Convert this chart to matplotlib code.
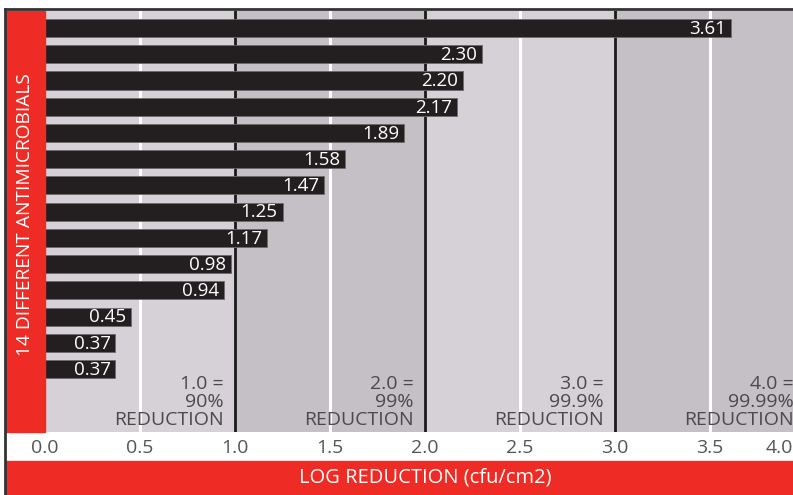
import matplotlib.pyplot as plt
from matplotlib.patches import Rectangle
from matplotlib.lines import Line2D

plt.rcParams['font.family'] = ['Open Sans', 'DejaVu Sans']

values = [3.61, 2.30, 2.20, 2.17, 1.89, 1.58, 1.47, 1.25, 1.17, 0.98, 0.94, 0.45, 0.37, 0.37]
ticks = [0.0, 0.5, 1.0, 1.5, 2.0, 2.5, 3.0, 3.5, 4.0]
notes = {1.0: '1.0 =\n90%\nREDUCTION', 2.0: '2.0 =\n99%\nREDUCTION',
         3.0: '3.0 =\n99.9%\nREDUCTION', 4.0: '4.0 =\n99.99%\nREDUCTION'}
ylabel = '14 DIFFERENT ANTIMICROBIALS'
xlabel = 'LOG REDUCTION (cfu/cm2)'

red = '#ee2b24'
light = '#d6d1d6'
dark = '#c5bfc6'
W, H = 793, 495

fig = plt.figure(figsize=(W / 100, H / 100), dpi=100)
fig.patch.set_facecolor('white')

def px(x0, y0, x1, y1):
    # pixel box (top-left origin) -> figure fraction rect
    return [x0 / W, 1 - y1 / H, (x1 - x0) / W, (y1 - y0) / H]

ax = fig.add_axes(px(45, 11, 45 + 190 * 3.94, 432))
ax.set_xlim(0, 3.94)
ax.set_ylim(15.4, -0.65)

# background bands
for i in range(4):
    ax.axvspan(i, i + 1, color=light if i % 2 == 0 else dark, zorder=0)
for x in [0.5, 1.5, 2.5, 3.5]:
    ax.axvline(x, color='white', lw=2.2, zorder=1)
for x in [1, 2, 3]:
    ax.axvline(x, color='#1a1a1a', lw=2.0, zorder=1)

y = list(range(len(values)))
ax.barh(y, values, height=0.69, color='#231f20', edgecolor='#6e6a6c', lw=0.6, zorder=2)
for a, b in zip(y, values):
    ax.text(b - 0.025, a + 0.03, '%.2f' % b, color='white', ha='right', va='center',
            fontsize=13.5, zorder=3)

for x, s in notes.items():
    ax.text(x - 0.06, 15.3, s, ha='right', va='bottom', color='#4a4a4a',
            fontsize=14, linespacing=1.03, zorder=3, clip_on=False)

for sp in ax.spines.values():
    sp.set_visible(False)
ax.set_yticks([])
ax.set_xticks(ticks[:-1])
ax.set_xticklabels(['%.1f' % t for t in ticks[:-1]])
ax.tick_params(axis='x', length=0, pad=5, labelsize=14, labelcolor='#555555')
lab0 = ax.get_xticklabels()[0]
fig.canvas.draw()
ty = lab0.get_window_extent().y1 / fig.bbox.height
fig.text(793 / W, ty, '%.1f' % ticks[-1], ha='right', va='top',
         fontsize=14, color='#555555')

# red bands
r1 = px(6, 11, 45, 432)
fig.add_artist(Rectangle(r1[:2], r1[2], r1[3], transform=fig.transFigure, color=red, zorder=5))
r2 = px(6, 461, W, H)
fig.add_artist(Rectangle(r2[:2], r2[2], r2[3], transform=fig.transFigure, color=red, zorder=5))
fig.text(25 / W, 1 - 215 / H, ylabel, rotation=90, ha='center', va='center',
         color='white', fontsize=13.8, zorder=6)
fig.text(425 / W, 1 - 478 / H, xlabel, ha='center', va='center',
         color='white', fontsize=14.5, zorder=6)

# dark frame at top and left
fig.add_artist(Line2D([5 / W, 1], [1 - 9 / H, 1 - 9 / H], color='#333333', lw=2,
                      transform=fig.transFigure, zorder=7))
fig.add_artist(Line2D([5 / W, 5 / W], [0, 1 - 9 / H], color='#333333', lw=2,
                      transform=fig.transFigure, zorder=7))

fig.savefig('out.png', dpi=100)
